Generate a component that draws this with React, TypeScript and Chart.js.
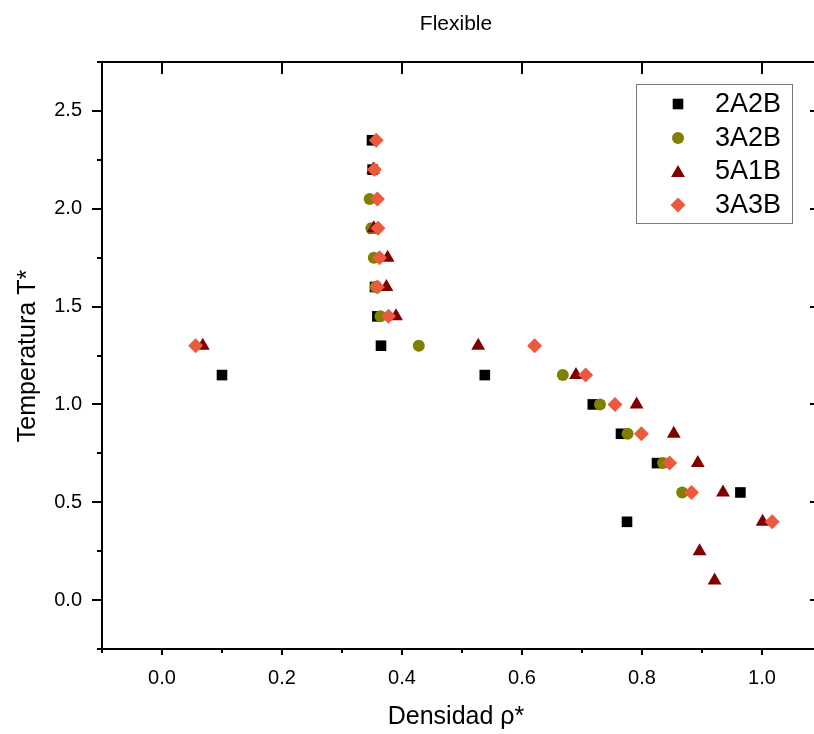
import React, { useEffect, useRef } from 'react';
import { Chart, registerables } from 'chart.js';

Chart.register(...registerables);

// ---- Data ----
const seriesNames = ['2A2B', '3A2B', '5A1B', '3A3B'];
const seriesColors = ['#000000', '#808000', '#800000', '#EB5A3E'];
const seriesShapes = ['rect', 'circle', 'triangle', 'rectRot'];
const seriesRadii = [7.5, 6, 8, 7.5];

const rho2A2B = [0.350, 0.351, 0.352, 0.355, 0.359, 0.365, 0.100, 0.538, 0.718, 0.765, 0.825, 0.964, 0.775];
const temp2A2B = [2.35, 2.20, 1.90, 1.60, 1.45, 1.30, 1.15, 1.15, 1.00, 0.85, 0.70, 0.55, 0.40];

const rho3A2B = [0.346, 0.349, 0.353, 0.356, 0.364, 0.428, 0.668, 0.730, 0.776, 0.835, 0.867];
const temp3A2B = [2.05, 1.90, 1.75, 1.60, 1.45, 1.30, 1.15, 1.00, 0.85, 0.70, 0.55];

const rho5A1B = [0.352, 0.353, 0.376, 0.374, 0.390, 0.068, 0.527, 0.690, 0.791, 0.853, 0.893, 0.935, 1.001, 0.896, 0.921];
const temp5A1B = [2.20, 1.90, 1.75, 1.60, 1.45, 1.30, 1.30, 1.15, 1.00, 0.85, 0.70, 0.55, 0.40, 0.25, 0.10];

const rho3A3B = [0.357, 0.354, 0.359, 0.360, 0.3625, 0.359, 0.3775, 0.056, 0.621, 0.706, 0.755, 0.799, 0.846, 0.8825, 1.017];
const temp3A3B = [2.35, 2.20, 2.05, 1.90, 1.75, 1.60, 1.45, 1.30, 1.30, 1.15, 1.00, 0.85, 0.70, 0.55, 0.40];

const seriesRho = [rho2A2B, rho3A2B, rho5A1B, rho3A3B];
const seriesTemp = [temp2A2B, temp3A2B, temp5A1B, temp3A3B];

const xMajorTicks = [0, 0.2, 0.4, 0.6, 0.8, 1.0];
const xMinorTicks = [-0.1, 0.1, 0.3, 0.5, 0.7, 0.9, 1.1];
const yMajorTicks = [0, 0.5, 1.0, 1.5, 2.0, 2.5];
const yMinorTicks = [-0.25, 0.25, 0.75, 1.25, 1.75, 2.25, 2.75];
const xRange = [-0.1, 1.1];
const yRange = [-0.25, 2.75];

const chartTitle = 'Flexible';
const xAxisTitle = 'Densidad ρ*';
const yAxisTitle = 'Temperatura T*';

const FONT = "'Liberation Sans', Arial, Helvetica, sans-serif";

function drawShape(ctx: CanvasRenderingContext2D, shape: string, x: number, y: number, r: number) {
  ctx.beginPath();
  if (shape === 'rect') {
    const s = r * Math.SQRT1_2;
    ctx.rect(x - s, y - s, 2 * s, 2 * s);
  } else if (shape === 'circle') {
    ctx.arc(x, y, r, 0, Math.PI * 2);
  } else if (shape === 'triangle') {
    ctx.moveTo(x, y - r);
    ctx.lineTo(x + 0.866 * r, y + 0.5 * r);
    ctx.lineTo(x - 0.866 * r, y + 0.5 * r);
    ctx.closePath();
  } else {
    ctx.moveTo(x - r, y);
    ctx.lineTo(x, y - r);
    ctx.lineTo(x + r, y);
    ctx.lineTo(x, y + r);
    ctx.closePath();
  }
  ctx.fill();
}

const framePlugin = {
  id: 'originFrame',
  beforeDatasetsDraw(chart: any) {
    const { ctx, chartArea: a, scales } = chart;
    const xs = scales.x;
    const ys = scales.y;
    ctx.save();
    ctx.strokeStyle = '#000';
    ctx.lineWidth = 2;
    ctx.beginPath();
    ctx.rect(a.left, a.top, a.right - a.left, a.bottom - a.top);
    ctx.stroke();
    ctx.beginPath();
    xMajorTicks.forEach((v) => {
      const px = Math.round(xs.getPixelForValue(v));
      ctx.moveTo(px, a.bottom);
      ctx.lineTo(px, a.bottom + 6);
      ctx.moveTo(px, a.top);
      ctx.lineTo(px, a.top + 12);
    });
    xMinorTicks.forEach((v) => {
      const px = Math.round(xs.getPixelForValue(v));
      ctx.moveTo(px, a.bottom);
      ctx.lineTo(px, a.bottom + 4);
    });
    yMajorTicks.forEach((v) => {
      const py = Math.round(ys.getPixelForValue(v));
      ctx.moveTo(a.left, py);
      ctx.lineTo(a.left - 10, py);
      ctx.moveTo(a.right, py);
      ctx.lineTo(a.right - 12, py);
    });
    yMinorTicks.forEach((v) => {
      const py = Math.round(ys.getPixelForValue(v));
      ctx.moveTo(a.left, py);
      ctx.lineTo(a.left - 5, py);
    });
    ctx.stroke();
    ctx.restore();
  },
  afterDraw(chart: any) {
    const { ctx } = chart;
    ctx.save();
    ctx.fillStyle = '#000';
    ctx.textAlign = 'center';
    ctx.textBaseline = 'middle';
    ctx.font = `21px ${FONT}`;
    ctx.fillText(chartTitle, 456, 24);
    ctx.font = `25px ${FONT}`;
    ctx.fillText(xAxisTitle, 456, 717);
    ctx.save();
    ctx.translate(28, 356);
    ctx.rotate(-Math.PI / 2);
    ctx.fillText(yAxisTitle, 0, 0);
    ctx.restore();

    // legend
    ctx.strokeStyle = '#7a7a7a';
    ctx.lineWidth = 1;
    ctx.strokeRect(636.5, 84.5, 156, 139);
    const rowY = [104, 138, 171, 205];
    ctx.textAlign = 'left';
    ctx.font = `27px ${FONT}`;
    chart.data.datasets.forEach((ds: any, i: number) => {
      ctx.fillStyle = seriesColors[i];
      drawShape(ctx, seriesShapes[i], 678, rowY[i] + (seriesShapes[i] === 'triangle' ? 2 : 0), seriesRadii[i]);
      ctx.fillStyle = '#000';
      ctx.fillText(ds.label, 715, rowY[i] + 1);
    });
    ctx.restore();
  },
};

export default function App() {
  const ref = useRef<HTMLCanvasElement>(null);

  useEffect(() => {
    if (!ref.current) return;
    const chart = new Chart(ref.current, {
      type: 'scatter',
      data: {
        datasets: seriesNames.map((name, i) => ({
          label: name,
          data: seriesRho[i].map((x, j) => ({ x, y: seriesTemp[i][j] })),
          pointStyle: seriesShapes[i] as any,
          pointRadius: seriesRadii[i],
          pointHoverRadius: seriesRadii[i],
          backgroundColor: seriesColors[i],
          borderColor: seriesColors[i],
          borderWidth: 0,
          showLine: false,
          order: seriesNames.length - i,
        })),
      },
      options: {
        animation: false,
        responsive: false,
        devicePixelRatio: 1,
        layout: { padding: { top: 62, right: 7.5, left: 0, bottom: 0 } },
        plugins: {
          legend: { display: false },
          title: { display: false },
          tooltip: { enabled: false },
        },
        scales: {
          x: {
            type: 'linear',
            min: xRange[0],
            max: xRange[1],
            afterBuildTicks: (axis: any) => {
              axis.ticks = xMajorTicks.map((v) => ({ value: v }));
            },
            afterFit: (s: any) => {
              s.height = 85;
            },
            grid: { display: false, drawTicks: false },
            border: { display: false },
            ticks: {
              color: '#000',
              font: { family: FONT, size: 20 },
              padding: 17,
              maxRotation: 0,
              autoSkip: false,
              callback: (v: any) => Number(v).toFixed(1),
            },
          },
          y: {
            type: 'linear',
            min: yRange[0],
            max: yRange[1],
            afterBuildTicks: (axis: any) => {
              axis.ticks = yMajorTicks.map((v) => ({ value: v }));
            },
            afterFit: (s: any) => {
              s.width = 102;
            },
            grid: { display: false, drawTicks: false },
            border: { display: false },
            ticks: {
              color: '#000',
              font: { family: FONT, size: 20 },
              padding: 20,
              autoSkip: false,
              callback: (v: any) => Number(v).toFixed(1),
            },
          },
        },
      },
      plugins: [framePlugin],
    });
    return () => chart.destroy();
  }, []);

  return (
    <div
      style={{
        position: 'absolute',
        left: 0,
        top: 0,
        width: 814,
        height: 734,
        overflow: 'hidden',
        background: '#fff',
      }}
    >
      <canvas ref={ref} width={830} height={734} style={{ display: 'block', width: 830, height: 734 }} />
    </div>
  );
}
